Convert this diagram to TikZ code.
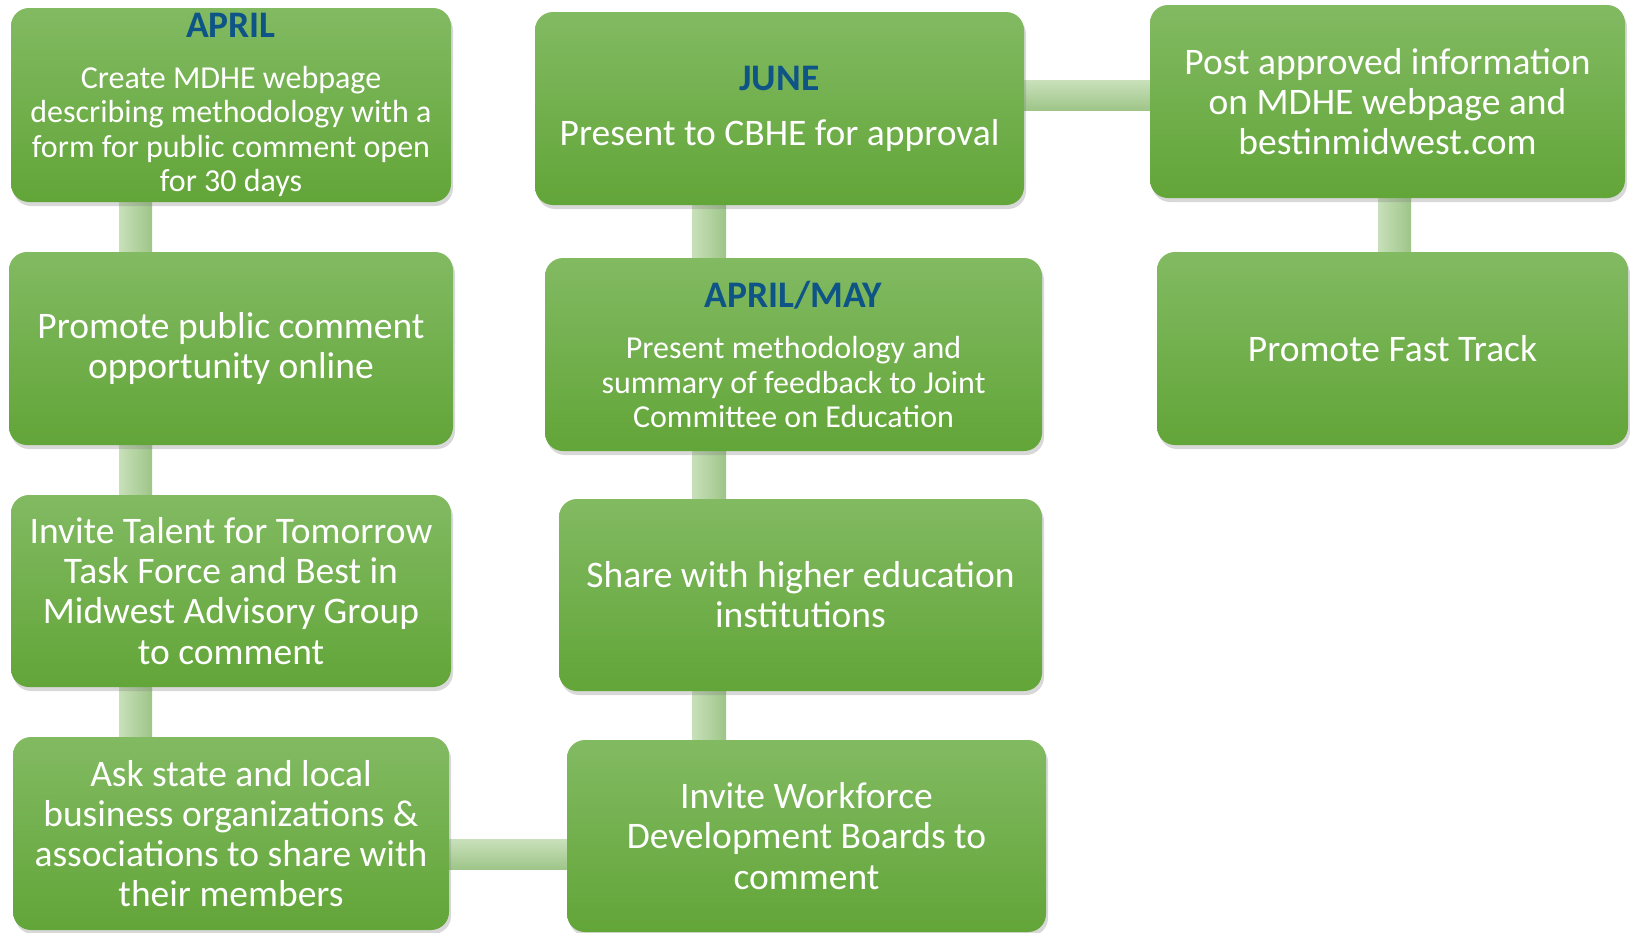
\documentclass[tikz,border=0pt]{standalone}
\usepackage{fontspec}
\setmainfont{Carlito}
\usetikzlibrary{shadows,calc,backgrounds}
\definecolor{boxtop}{RGB}{130,186,98}
\definecolor{boxbot}{RGB}{98,165,56}
\definecolor{titleblue}{RGB}{14,84,134}
\definecolor{connA}{RGB}{200,224,186}
\definecolor{connB}{RGB}{158,197,136}
\newcommand{\bigtxt}{\fontsize{37.5}{40.2}\selectfont}
\newcommand{\smalltxt}{\fontsize{32}{34.5}\selectfont}
\newcommand{\ttl}[1]{{\fontsize{37.5}{40}\selectfont\bfseries\color{titleblue}#1}}
\tikzset{
  stage/.style={rectangle, rounded corners=18pt, top color=boxtop, bottom color=boxbot,
    draw=none, text=white, align=center, inner sep=0pt,
    drop shadow={opacity=0.3, shadow xshift=2pt, shadow yshift=-4pt}},
  bigstage/.style={stage, font=\bigtxt},
  smallstage/.style={stage, font=\smalltxt},
  vconn/.style={left color=connA, right color=connB},
  hconn/.style={top color=connA, bottom color=connB},
}
\begin{document}
\begin{tikzpicture}[x=1pt,y=-1pt]
\useasboundingbox (0,0) rectangle (1630,932);
% column 1
\node[smallstage, minimum width=440pt, minimum height=194pt] (apr) at (231,105)
  {\ttl{APRIL}\\[16pt]Create MDHE webpage\\describing methodology with a\\form for public comment open\\for 30 days};
\node[bigstage, minimum width=444pt, minimum height=193pt] (prom) at (231,348.5)
  {Promote public comment\\opportunity online};
\node[bigstage, minimum width=440pt, minimum height=192pt] (talent) at (231,591)
  {Invite Talent for Tomorrow\\Task Force and Best in\\Midwest Advisory Group\\to comment};
\node[bigstage, minimum width=436pt, minimum height=193pt] (ask) at (231,833.5)
  {Ask state and local\\business organizations \&\\associations to share with\\their members};
% column 2
\node[bigstage, minimum width=489pt, minimum height=193pt] (june) at (779.5,108.5)
  {\ttl{JUNE}\\[15pt]Present to CBHE for approval};
\node[smallstage, minimum width=497pt, minimum height=193pt] (aprmay) at (793.5,354.5)
  {\ttl{APRIL/MAY}\\[17pt]Present methodology and\\summary of feedback to Joint\\Committee on Education};
\node[bigstage, minimum width=483pt, minimum height=192pt] (share) at (800.5,595)
  {Share with higher education\\institutions};
\node[bigstage, minimum width=479pt, minimum height=192pt] (work) at (806.5,836)
  {Invite Workforce\\Development Boards to\\comment};
% column 3
\node[bigstage, minimum width=475pt, minimum height=193pt] (post) at (1387.5,101.5)
  {Post approved information\\on MDHE webpage and\\bestinmidwest.com};
\node[bigstage, minimum width=471pt, minimum height=193pt] (fast) at (1392.5,348.5)
  {Promote Fast Track};
% connectors
\coordinate (c1) at (135.5,0);
\coordinate (c2) at (709,0);
\coordinate (c3) at (1394.5,0);
\coordinate (r1) at (0,95.5);
\coordinate (r2) at (0,854.5);
\begin{scope}[on background layer]
\fill[white] (0,0) rectangle (1630,932);
\shade[vconn] ($(apr.south -| c1)+(-16.5,-2)$) rectangle ($(prom.north -| c1)+(16.5,2)$);
\shade[vconn] ($(prom.south -| c1)+(-16.5,-2)$) rectangle ($(talent.north -| c1)+(16.5,2)$);
\shade[vconn] ($(talent.south -| c1)+(-16.5,-2)$) rectangle ($(ask.north -| c1)+(16.5,2)$);
\shade[hconn] ($(ask.east |- r2)+(-2,-15)$) rectangle ($(work.west |- r2)+(2,15)$);
\shade[vconn] ($(work.north -| c2)+(-17,2)$) rectangle ($(share.south -| c2)+(17,-2)$);
\shade[vconn] ($(share.north -| c2)+(-17,2)$) rectangle ($(aprmay.south -| c2)+(17,-2)$);
\shade[vconn] ($(aprmay.north -| c2)+(-17,2)$) rectangle ($(june.south -| c2)+(17,-2)$);
\shade[hconn] ($(june.east |- r1)+(-2,-15)$) rectangle ($(post.west |- r1)+(2,15)$);
\shade[vconn] ($(post.south -| c3)+(-16.5,-2)$) rectangle ($(fast.north -| c3)+(16.5,2)$);
\end{scope}
\end{tikzpicture}
\end{document}
